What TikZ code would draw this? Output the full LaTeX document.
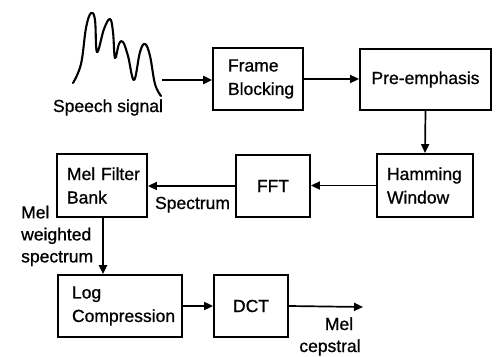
\documentclass[tikz,border=0pt]{standalone}
\usepackage{fontspec}
\setmainfont{Liberation Sans}[BoldFont=Liberation Sans,BoldFeatures={FakeBold=0.9}]
\usetikzlibrary{arrows.meta}
\begin{document}
\begin{tikzpicture}[x=1pt,y=-1pt,
  blk/.style={draw,line width=1.8pt,inner ysep=0pt,font=\fontsize{17.5}{23.5}\selectfont\bfseries},
  lbl/.style={inner sep=0pt,font=\fontsize{17.5}{22}\selectfont\bfseries},
  conn/.style={line width=1.7pt,-{Triangle[length=9pt,width=8pt]}},
  thickconn/.style={line width=2.6pt,-{Triangle[length=9pt,width=8pt]}}]
\useasboundingbox (0,0) rectangle (500,356);
% boxes
\node[blk,minimum width=90pt,minimum height=62pt,text width=60pt,inner xsep=15pt,align=left] (frame) at (258,79) {Frame\\Blocking};
\node[blk,minimum width=131pt,minimum height=61pt,align=center] (pre) at (425.5,79.5) {Pre-emphasis};
\node[blk,minimum width=96pt,minimum height=63pt,text width=76pt,inner xsep=10pt,align=left] (ham) at (425,185.5) {Hamming\\Window};
\node[blk,minimum width=74pt,minimum height=62pt,align=center] (fft) at (273,186) {FFT};
\node[blk,minimum width=90pt,minimum height=63pt,text width=70pt,inner xsep=10pt,align=left] (mel) at (102,185.5) {\mbox{Mel Filter}\\Bank};
\node[blk,minimum width=124pt,minimum height=62pt,text width=96pt,inner xsep=14pt,align=left] (log) at (120,306) {Log\\\mbox{Compression}};
\node[blk,minimum width=74pt,minimum height=62pt,align=center] (dct) at (251,306) {DCT};
% waveform
\draw[line width=2.1pt,line join=round,line cap=round] plot[smooth,tension=0.65] coordinates {
 (73,83) (81,64) (86,28) (91,13) (95,20) (97,52) (104,29) (110,19) (113,32) (115,58)
 (119,44) (123,42) (128,56) (134,80) (140,52) (145,44) (150,56) (155,84) (161,96)};
\coordinate (wave) at (162,80);
\node[lbl,anchor=base] (speech) at (108,112) {Speech signal};
% labels
\node[lbl,anchor=base] (spec) at (192.5,209) {Spectrum};
\node[lbl,anchor=north west,align=left] (melw) at (21,205.5) {Mel\\weighted\\spectrum};
\node[lbl,anchor=base,align=center] (melc) at (330,352) {\hspace*{18pt}Mel\\cepstral};
\coordinate (out) at (363,307);
% connectors
\draw[thickconn] (wave) -- (frame.west |- wave);
\draw[conn] (frame.east) -- (pre.west |- frame.east);
\draw[conn] (pre.south) -- (ham.north);
\draw[conn] (ham.west) -- (fft.east |- ham.west);
\draw[conn] (fft.west) -- (mel.east |- fft.west);
\draw[thickconn] ([xshift=1pt]mel.south) -- ([xshift=1pt]mel.south |- log.north);
\draw[conn] (log.east) -- (dct.west);
\draw[conn] (dct.east) -- (out);
\end{tikzpicture}
\end{document}
